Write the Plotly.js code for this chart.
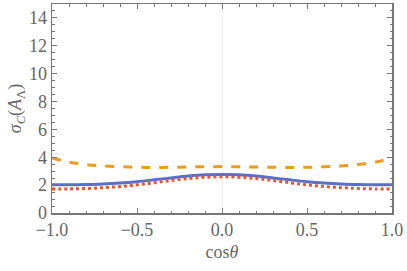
<!DOCTYPE html>
<html><head><meta charset="utf-8">
<script src="https://cdn.plot.ly/plotly-3.0.1.min.js"></script>
<style>html,body{margin:0;padding:0;background:#fff}</style>
</head><body><div id="chart" style="width:407px;height:271px"></div>
<script>
const cosTheta = [-1,-0.9,-0.8,-0.7,-0.6,-0.5,-0.4,-0.3,-0.2,-0.1,0,0.1,0.2,0.3,0.4,0.5,0.6,0.7,0.8,0.9,1];
const dashedSeries = [3.95,3.65,3.48,3.38,3.32,3.28,3.27,3.28,3.30,3.32,3.33,3.32,3.30,3.28,3.27,3.28,3.32,3.38,3.48,3.65,3.95];
const solidSeries = [2.02,2.02,2.04,2.08,2.15,2.25,2.38,2.52,2.65,2.74,2.77,2.74,2.65,2.52,2.38,2.25,2.15,2.08,2.04,2.02,2.02];
const dottedSeries = [1.72,1.73,1.76,1.82,1.90,2.02,2.17,2.33,2.47,2.56,2.60,2.56,2.47,2.33,2.17,2.02,1.90,1.82,1.76,1.73,1.72];
const xTicks = [-1,-0.5,0,0.5,1];
const xTickText = ['\u22121.0','\u22120.5','0.0','0.5','1.0'];
const yTicks = [0,2,4,6,8,10,12,14];

const traces = [
  {x: cosTheta, y: solidSeries, mode:'lines', line:{color:'#5b6fc8', width:3, shape:'spline'}, hoverinfo:'skip'},
  {x: cosTheta, y: dottedSeries, mode:'lines', line:{color:'#e8562a', width:3, dash:'dot', shape:'spline'}, hoverinfo:'skip'},
  {x: cosTheta, y: dashedSeries, mode:'lines', line:{color:'#ee9a1c', width:3, dash:'dash', shape:'spline'}, hoverinfo:'skip'}
];
const SERIF = 'Liberation Serif';
const axisFont = {family:SERIF, size:18, color:'#666'};
const layout = {
  width:407, height:271,
  margin:{l:52, r:15, t:4, b:58},
  showlegend:false,
  paper_bgcolor:'#fff', plot_bgcolor:'#fff',
  font: axisFont,
  xaxis:{
    range:[-1,1], tickvals:xTicks, ticktext:xTickText,
    ticks:'inside', ticklen:5, tickwidth:1, tickcolor:'#777',
    minor:{dtick:0.1, ticks:'inside', ticklen:2.5, tickcolor:'#777', showgrid:false},
    showline:true, linecolor:'#777', linewidth:1.5, mirror:'ticks',
    showgrid:false, zeroline:true, zerolinecolor:'#eee', zerolinewidth:1,
    tickfont:axisFont, ticklabelstandoff:0,
    title:{text:'cos<i>θ</i>', font:{family:SERIF, size:18, color:'#666'}, standoff:6}
  },
  yaxis:{
    range:[0,15], tickvals:yTicks,
    ticks:'inside', ticklen:5, tickwidth:1, tickcolor:'#777',
    minor:{dtick:0.5, ticks:'inside', ticklen:2.5, tickcolor:'#777', showgrid:false},
    showline:true, linecolor:'#777', linewidth:1.5, mirror:'ticks',
    showgrid:false, zeroline:false,
    tickfont:axisFont, ticklabelstandoff:0,
    title:{text:'<i>σ</i><sub><i>C</i></sub>(<i>A</i><sub>Λ</sub>)', font:{family:SERIF, size:18, color:'#666'}, standoff:2}
  }
};
Plotly.newPlot('chart', traces, layout, {staticPlot:true, displayModeBar:false});
</script></body></html>
